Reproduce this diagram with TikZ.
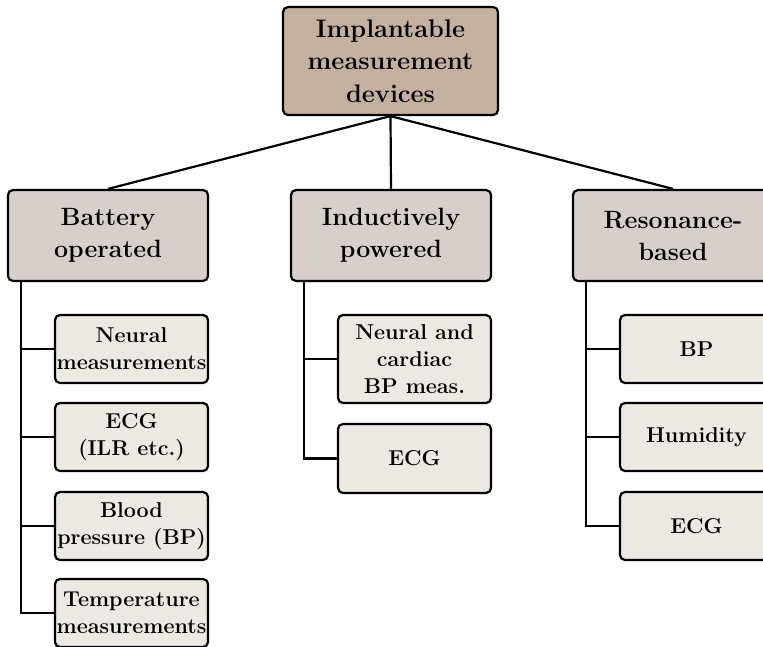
\documentclass[tikz,border=0pt]{standalone}
\usepackage{tikz}
\definecolor{rootfill}{RGB}{196,176,159}
\definecolor{midfill}{RGB}{215,208,202}
\definecolor{leaffill}{RGB}{236,233,226}
\tikzset{
  base/.style={draw=black, line width=2.2pt, rounded corners=5pt, align=center, inner sep=0pt, font=\bfseries},
  rootbox/.style={base, fill=rootfill, minimum width=215pt, minimum height=108pt, font=\bfseries\fontsize{25.4}{32.5}\selectfont},
  midbox/.style={base, fill=midfill, minimum width=200pt, minimum height=91pt, font=\bfseries\fontsize{25}{32}\selectfont},
  leafbox/.style={base, fill=leaffill, minimum width=153pt, minimum height=68pt, font=\bfseries\fontsize{21.5}{27}\selectfont},
  conn/.style={draw=black, line width=2.2pt}
}
\begin{document}
\begin{tikzpicture}[x=1pt,y=-1pt]
\useasboundingbox (0,0) rectangle (763,646);
\clip (0,0) rectangle (763,646);
\node[rootbox] (root) at (390.5,61) {Implantable\\measurement\\devices};
\node[midbox] (bat) at (108,235.5) {Battery\\operated};
\node[midbox] (ind) at (391,235.5) {Inductively\\powered};
\node[midbox] (res) at (673,235.5) {Resonance-\\based};
% battery leaves
\node[leafbox] (b1) at (131.5,349) {Neural\\measurements};
\node[leafbox] (b2) at (131.5,437) {ECG\\(ILR etc.)};
\node[leafbox] (b3) at (131.5,526) {Blood\\pressure (BP)};
\node[leafbox] (b4) at (131.5,613) {Temperature\\measurements};
% inductive leaves
\node[leafbox, minimum height=88pt] (i1) at (414.5,359) {Neural and\\cardiac\\BP meas.};
\node[leafbox, minimum height=69pt] (i2) at (414.5,458.5) {ECG};
% resonance leaves
\node[leafbox] (r1) at (696.5,349) {BP};
\node[leafbox] (r2) at (696.5,437) {Humidity};
\node[leafbox] (r3) at (696.5,526) {ECG};
% connectors
\draw[conn] (root.south) -- (bat.north);
\draw[conn] (root.south) -- (ind.north);
\draw[conn] (root.south) -- (res.north);
\coordinate (bt) at (21,281);
\coordinate (it) at (304,281);
\coordinate (rt) at (586,281);
\draw[conn] (bt) |- (b4.west);
\draw[conn] (b1.west) -- (b1.west -| bt);
\draw[conn] (b2.west) -- (b2.west -| bt);
\draw[conn] (b3.west) -- (b3.west -| bt);
\draw[conn] (it) |- (i2.west);
\draw[conn] (i1.west) -- (i1.west -| it);
\draw[conn] (rt) |- (r3.west);
\draw[conn] (r1.west) -- (r1.west -| rt);
\draw[conn] (r2.west) -- (r2.west -| rt);
\end{tikzpicture}
\end{document}
